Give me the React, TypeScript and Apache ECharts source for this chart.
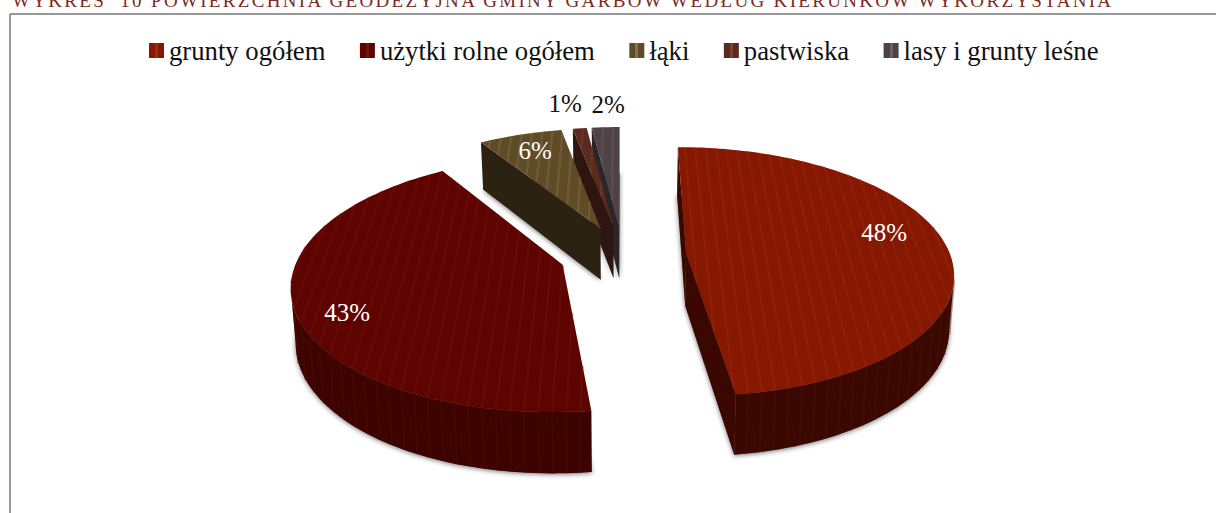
import React, { useEffect, useRef } from "react";
import * as echarts from "echarts";

const categories = ["grunty ogółem", "użytki rolne ogółem", "łąki", "pastwiska", "lasy i grunty leśne"];
const values = [48, 43, 6, 1, 2];
const titleText = "WYKRES  10 POWIERZCHNIA GEODEZYJNA GMINY GARBÓW WEDŁUG KIERUNKÓW WYKORZYSTANIA";

const topColors = ["#861700", "#5e0400", "#5f4c27", "#5b2a1c", "#4e4247"];
const stripeColors = ["#9c2c10", "#701408", "#85734f", "#7a4434", "#6c6065"];
const wallColors = ["#3a0800", "#3c0300", "#2b2211", "#2f1510", "#2a2528"];
const wallStripes = ["#4a1000", "#4c0a02", "#2b2211", "#2f1510", "#2a2528"];
const labelColors = ["#ffffff", "#ffffff", "#ffffff", "#111111", "#111111"];
// label placement within the pie: [radius fraction, angle in degrees]
const labelPolar = [[0.795, 77.8], [0.832, 244.3], [0.81, 338.8], [1.31, 349.8], [1.275, 357.6]];

const CX = 623, CY = 254.6, A = 264, B = 122, K = 0.15, EXPLODE = 0.24, BOTTOM_X = 0.985;
const DEPTH_BASE = 10, DEPTH = 43;
const DU = 0.045;
const rad = (d: number) => (d * Math.PI) / 180;

function project(u: number, v: number, bottom = false): number[] {
  const w = 1 + K * v;
  let x = CX + (A * u) / w;
  let y = CY - (B * v) / w;
  if (bottom) {
    x = CX + (x - CX) * BOTTOM_X;
    y += DEPTH_BASE + DEPTH / w;
  }
  return [x, y];
}

const total = values.reduce((a, b) => a + b, 0);
let acc = 0;
const slices = values.map((val) => {
  const a0 = (acc / total) * 360;
  acc += val;
  const a1 = (acc / total) * 360;
  const mid = (a0 + a1) / 2;
  return { a0, a1, mid, ou: EXPLODE * Math.sin(rad(mid)), ov: EXPLODE * Math.cos(rad(mid)) };
});

function renderSlice(i: number) {
  const s = slices[i];
  const steps = Math.max(2, Math.ceil((s.a1 - s.a0) / 1.5));
  const rim: number[][] = [];
  for (let k = 0; k <= steps; k++) {
    const t = rad(s.a0 + ((s.a1 - s.a0) * k) / steps);
    rim.push([s.ou + Math.sin(t), s.ov + Math.cos(t)]);
  }
  const apex = [s.ou, s.ov];
  const P = (p: number[], b = false) => project(p[0], p[1], b);
  const children: any[] = [];

  // soft shadow of the bottom face
  children.push({
    type: "polygon",
    shape: { points: [apex, ...rim].map((p) => P(p, true)) },
    style: { fill: "#777", shadowBlur: 5, shadowColor: "rgba(0,0,0,0.55)", shadowOffsetX: 0, shadowOffsetY: 1 },
  });

  const wall = (p: number[]) => [P(apex), P(p), P(p, true), P(apex, true)];
  const view = [0, -1 / K];
  const visible = (deg: number) => {
    const nu = Math.sin(rad(deg));
    const nv = Math.cos(rad(deg));
    return nu * (view[0] - apex[0]) + nv * (view[1] - apex[1]) > 0;
  };
  const fill = wallColors[i];
  if (visible(s.a0 - 90)) children.push({ type: "polygon", shape: { points: wall(rim[0]) }, style: { fill } });
  if (visible(s.a1 + 90)) children.push({ type: "polygon", shape: { points: wall(rim[rim.length - 1]) }, style: { fill } });

  // outer wall: only where the rim runs right to left on screen
  const front: number[][] = [];
  for (let k = 0; k < rim.length; k++) {
    const a = P(rim[Math.max(0, k - 1)]);
    const b = P(rim[Math.min(rim.length - 1, k + 1)]);
    if (b[0] < a[0]) front.push(rim[k]);
  }
  if (front.length > 1) {
    children.push({
      type: "polygon",
      shape: { points: [...front.map((p) => P(p)), ...front.slice().reverse().map((p) => P(p, true))] },
      style: { fill },
    });
    const n0 = Math.ceil(Math.min(...front.map((p) => p[0])) / DU);
    const n1 = Math.floor(Math.max(...front.map((p) => p[0])) / DU);
    for (let n = n0; n <= n1; n++) {
      const c = n * DU;
      for (let k = 0; k + 1 < front.length; k++) {
        const p = front[k], q = front[k + 1];
        if ((p[0] - c) * (q[0] - c) <= 0 && p[0] !== q[0]) {
          const v = p[1] + ((c - p[0]) / (q[0] - p[0])) * (q[1] - p[1]);
          const t = P([c, v]), b = P([c, v], true);
          children.push({
            type: "line",
            shape: { x1: t[0], y1: t[1], x2: b[0], y2: b[1] },
            style: { stroke: wallStripes[i], lineWidth: 2.5, opacity: 0.45 },
          });
          break;
        }
      }
    }
  }

  // top face
  const poly = [apex, ...rim];
  children.push({ type: "polygon", shape: { points: poly.map((p) => P(p)) }, style: { fill: topColors[i] } });

  // stripes of the top face
  const n0 = Math.ceil(Math.min(...poly.map((p) => p[0])) / DU);
  const n1 = Math.floor(Math.max(...poly.map((p) => p[0])) / DU);
  for (let n = n0; n <= n1; n++) {
    const c = n * DU;
    const hits: number[] = [];
    for (let k = 0; k < poly.length; k++) {
      const p = poly[k], q = poly[(k + 1) % poly.length];
      if ((p[0] - c) * (q[0] - c) <= 0 && p[0] !== q[0]) {
        hits.push(p[1] + ((c - p[0]) / (q[0] - p[0])) * (q[1] - p[1]));
      }
    }
    if (hits.length < 2) continue;
    const a = P([c, Math.min(...hits)]), b = P([c, Math.max(...hits)]);
    children.push({
      type: "line",
      shape: { x1: a[0], y1: a[1], x2: b[0], y2: b[1] },
      style: { stroke: stripeColors[i], lineWidth: 2.5, opacity: 0.38 },
    });
  }

  // percentage label
  const [lr, la] = labelPolar[i];
  const lp = project(s.ou + lr * Math.sin(rad(la)), s.ov + lr * Math.cos(rad(la)));
  children.push({
    type: "text",
    style: {
      text: `${Math.round((values[i] / total) * 100)}%`,
      x: lp[0],
      y: lp[1],
      fill: labelColors[i],
      font: "25px 'Liberation Serif'",
      align: "center",
      verticalAlign: "middle",
    },
  });
  return { type: "group", children };
}

function swatch(i: number) {
  const b = topColors[i], l = stripeColors[i];
  return new echarts.graphic.LinearGradient(0, 0, 1, 0, [
    { offset: 0, color: b },
    { offset: 0.4, color: b },
    { offset: 0.4, color: l },
    { offset: 0.6, color: l },
    { offset: 0.6, color: b },
    { offset: 1, color: b },
  ]);
}

export default function App() {
  const ref = useRef<HTMLDivElement>(null);
  useEffect(() => {
    const chart = echarts.init(ref.current!, undefined, { renderer: "svg" });
    chart.setOption({
      animation: false,
      backgroundColor: "#ffffff",
      legend: {
        left: 144,
        top: 32,
        icon: "rect",
        itemWidth: 15,
        itemHeight: 15,
        itemGap: 34.5,
        selectedMode: false,
        textStyle: { fontFamily: "'Liberation Serif'", fontSize: 26.7, color: "#111" },
        data: categories.map((name, i) => ({ name, itemStyle: { color: swatch(i) } })),
      },
      graphic: [
        {
          type: "text",
          id: "chartTitle",
          x: 12,
          y: -9,
          style: { text: titleText, fill: "#7d2a26", font: "19px 'Liberation Serif'" },
        },
        { type: "line", shape: { x1: 10, y1: 14, x2: 1216, y2: 14 }, style: { stroke: "#767676", lineWidth: 1.5 } },
        { type: "line", shape: { x1: 10, y1: 14, x2: 10, y2: 513 }, style: { stroke: "#767676", lineWidth: 1.5 } },
      ],
      series: categories.map((name, i) => ({
        type: "custom",
        name,
        coordinateSystem: "none",
        z: 10 - i,
        itemStyle: { color: topColors[i] },
        data: [[values[i]]],
        renderItem: () => renderSlice(i),
      })),
    });
    const svg = ref.current!.querySelectorAll("text");
    svg.forEach((t) => {
      if (t.textContent && t.textContent.startsWith("WYKRES")) t.setAttribute("letter-spacing", "2.32");
    });
    return () => chart.dispose();
  }, []);
  return <div ref={ref} style={{ position: "absolute", left: 0, top: 0, width: 1216, height: 513 }} />;
}
